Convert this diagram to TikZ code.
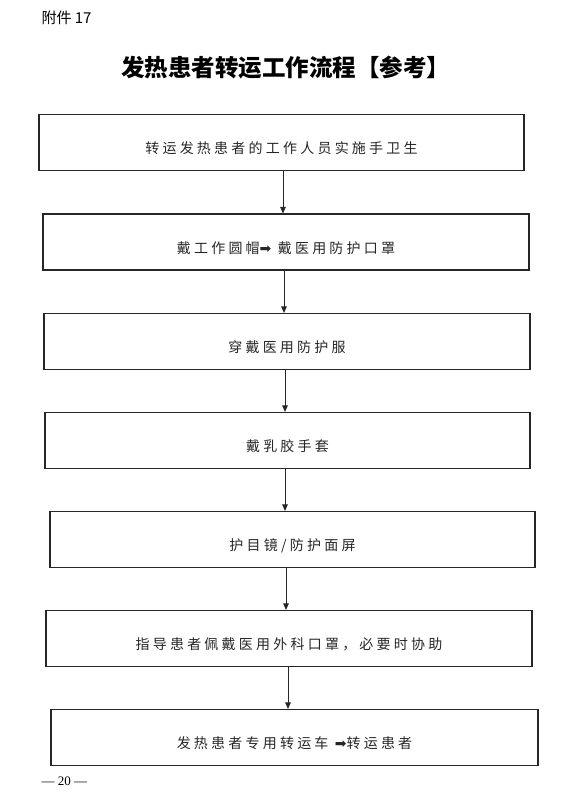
\documentclass[tikz,border=0pt]{standalone}
\usepackage{fontspec}
\setmainfont{Liberation Serif}
\newfontfamily\cjk{Noto Sans CJK SC}[LetterSpace=23]
\newfontfamily\cjktitle{Noto Sans CJK SC}
\newfontfamily\symf{DejaVu Sans}
\usetikzlibrary{arrows.meta}
\begin{document}
\begin{tikzpicture}[x=1pt,y=-1pt,
  box/.style={draw=black!85,line width=1.1pt,minimum height=56pt,inner sep=0pt},
  lbl/.style={font=\fontsize{14}{16}\cjk,text=black!85},
  arr/.style={draw=black!85,line width=0.9pt,-{Triangle[length=6.5pt,width=5.5pt]}}]
\useasboundingbox (0,0) rectangle (572,802);
\node[anchor=west,font=\fontsize{15}{17}\cjktitle] (att) at (38,18) {附件 17};
\node[font=\fontsize{23.5}{26}\cjktitle\bfseries] (title) at (285.5,68) {发热患者转运工作流程【参考】};
\node[box,minimum width=485pt] (b1) at (281.5,142.5) {};
\node[box,minimum width=486pt] (b2) at (286,242) {};
\node[box,minimum width=486pt] (b3) at (287,341.5) {};
\node[box,minimum width=485pt] (b4) at (287.5,440.5) {};
\node[box,minimum width=485pt] (b5) at (292.5,539.5) {};
\node[box,minimum width=486pt] (b6) at (289,638.5) {};
\node[box,minimum width=487pt] (b7) at (294.5,737.5) {};
\node[lbl] (t1) at ([yshift=-6pt]b1.center) {转运发热患者的工作人员实施手卫生};
\node[lbl] (t2) at ([yshift=-6pt]b2.center) {戴工作圆帽{\symf ➡} 戴医用防护口罩};
\node[lbl] (t3) at ([yshift=-6pt]b3.center) {穿戴医用防护服};
\node[lbl] (t4) at ([yshift=-6pt]b4.center) {戴乳胶手套};
\node[lbl] (t5) at ([yshift=-6pt]b5.center) {护目镜/防护面屏};
\node[lbl] (t6) at ([yshift=-6pt]b6.center) {指导患者佩戴医用外科口罩，必要时协助};
\node[lbl] (t7) at ([yshift=-6pt]b7.center) {发热患者专用转运车 {\symf ➡}转运患者};
\coordinate (x1) at (283,0);
\coordinate (x2) at (284,0);
\coordinate (x3) at (285,0);
\coordinate (x4) at (285,0);
\coordinate (x5) at (286,0);
\coordinate (x6) at (288,0);
\draw[arr] (b1.south -| x1) -- (b2.north -| x1);
\draw[arr] (b2.south -| x2) -- (b3.north -| x2);
\draw[arr] (b3.south -| x3) -- (b4.north -| x3);
\draw[arr] (b4.south -| x4) -- (b5.north -| x4);
\draw[arr] (b5.south -| x5) -- (b6.north -| x5);
\draw[arr] (b6.south -| x6) -- (b7.north -| x6);
\node[anchor=west,font=\fontsize{13}{14}\selectfont] (pg) at (38,781) {— 20 —};
\end{tikzpicture}
\end{document}
